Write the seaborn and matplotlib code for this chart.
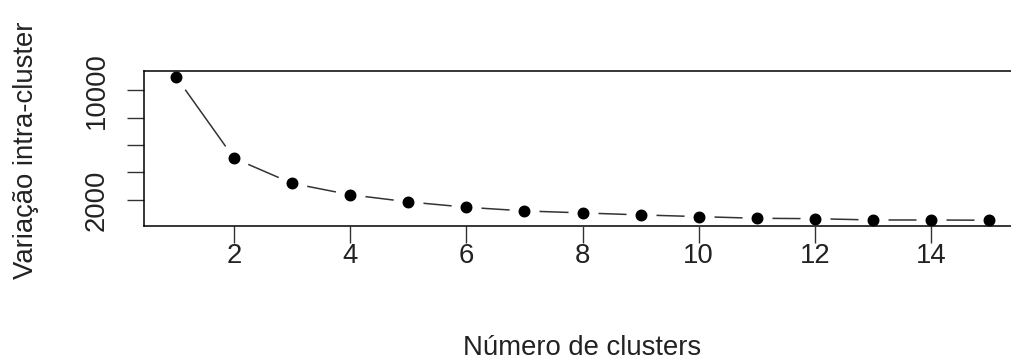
import matplotlib
matplotlib.use("Agg")
import matplotlib.pyplot as plt
import seaborn as sns
import pandas as pd

# elbow curve: within-cluster variation per number of clusters
clusters = list(range(1, 16))
variacao = [10975, 5030, 3200, 2370, 1850, 1460, 1190, 1045, 900, 775, 655, 625, 530, 530, 510]
y_ticks = [2000, 4000, 6000, 8000, 10000]
y_tick_labels = ["2000", "", "", "", "10000"]
x_ticks = [2, 4, 6, 8, 10, 12, 14]

df = pd.DataFrame({"k": clusters, "var": variacao})

sns.set_style("white")
plt.rcParams["font.family"] = ["Liberation Sans", "DejaVu Sans"]

fig = plt.figure(figsize=(10.12, 3.62), dpi=100)
ax = fig.add_axes([0.1418, 0.3757, 0.8676, 0.4282])

# type="b" look: white halo around each point breaks the line
sns.lineplot(data=df, x="k", y="var", ax=ax, color="#333333", linewidth=1.1,
             marker="o", markersize=15.1, markerfacecolor="black",
             markeredgecolor="white", markeredgewidth=6.5)

ax.margins(x=0.04, y=0.04)
ax.set_xticks(x_ticks)
ax.set_yticks(y_ticks)
ax.set_yticklabels(y_tick_labels)

for s in ax.spines.values():
    s.set_color("black")
    s.set_linewidth(1.1)
    s.set_zorder(5)
ax.spines["right"].set_visible(False)

fs = 19.8
ax.tick_params(axis="both", direction="out", length=12.2, width=1.0,
               color="#333333", labelsize=fs, labelcolor="#222222",
               bottom=True, left=True)
ax.tick_params(axis="x", pad=0)
ax.tick_params(axis="y", pad=12, labelrotation=90)
for lbl in ax.get_yticklabels():
    lbl.set_va("center")

ax.set_xlabel("Número de clusters", fontsize=fs, color="#222222")
ax.set_ylabel("Variação intra-cluster", fontsize=fs, color="#222222")
ax.xaxis.set_label_coords(0.5, -0.787)
ax.xaxis.label.set_va("center")
ax.yaxis.set_label_coords(-0.134, 0.49)
ax.yaxis.label.set_va("center")

fig.savefig("out.png", dpi=100)
